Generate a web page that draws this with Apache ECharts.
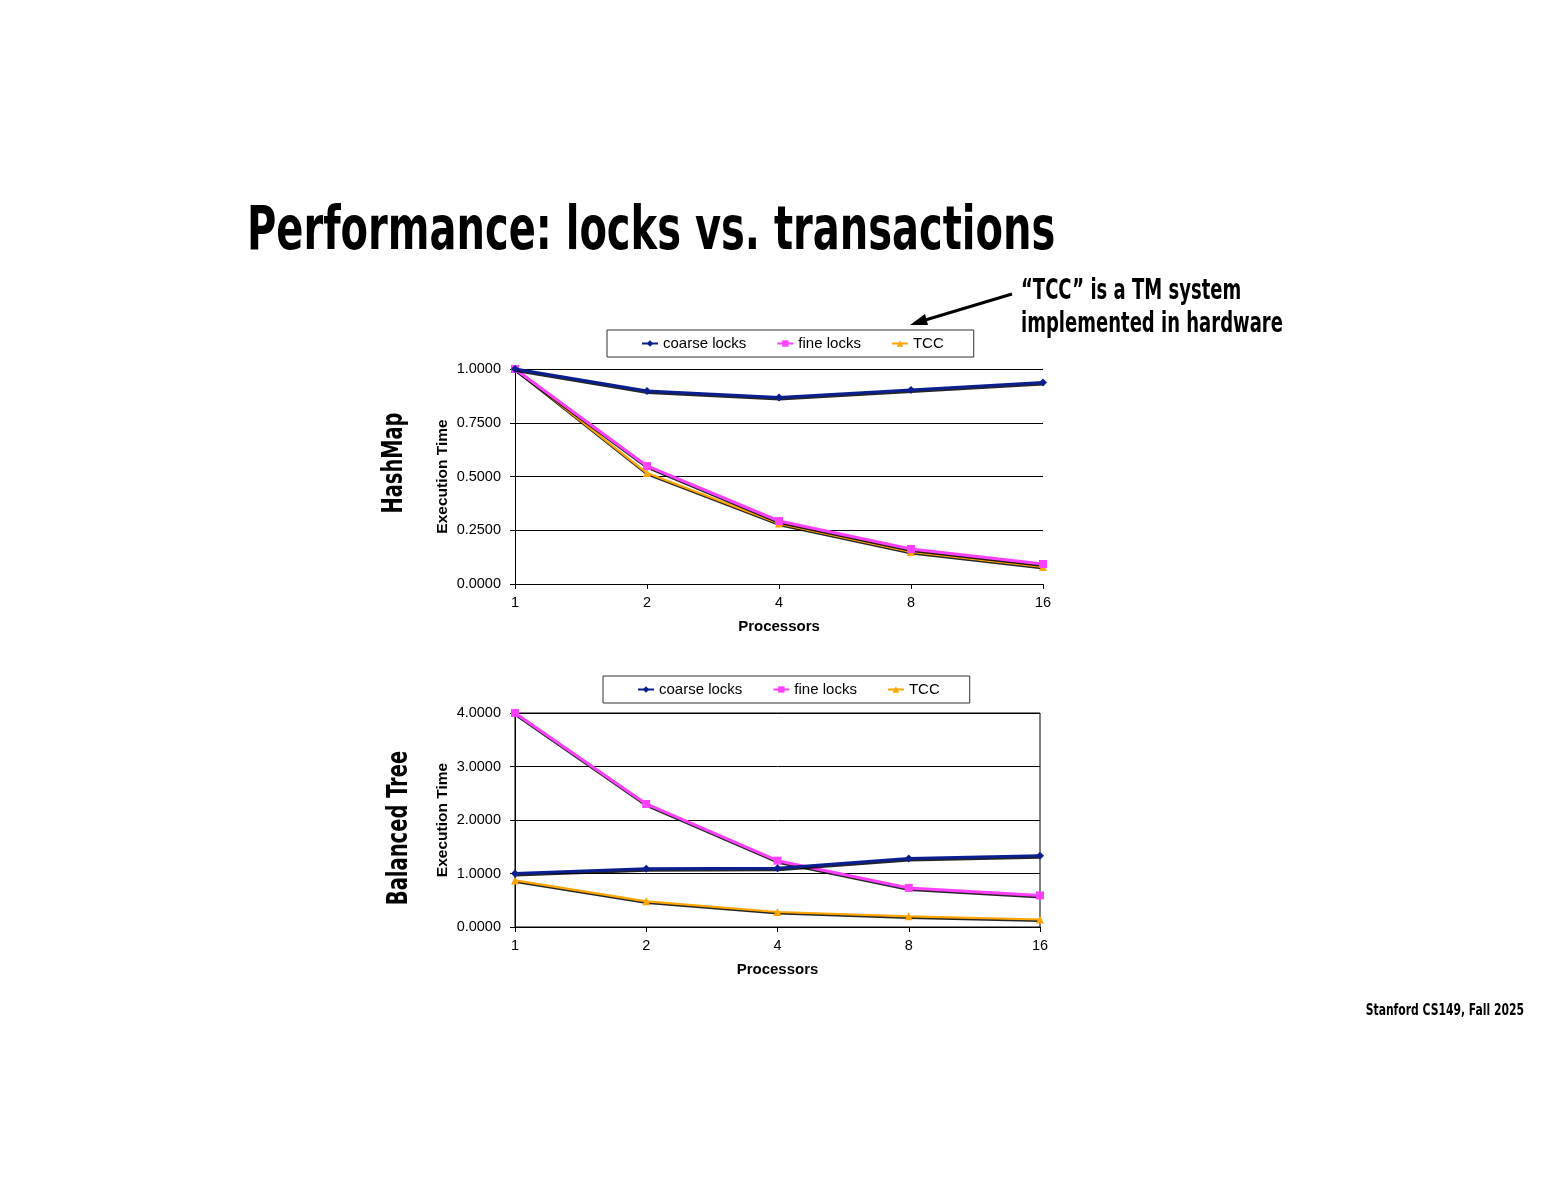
<!DOCTYPE html>
<html><head><meta charset="utf-8">
<script src="https://cdn.jsdelivr.net/npm/echarts@6/dist/echarts.min.js"></script>
<style>html,body{margin:0;padding:0;background:#fff}#c{width:1553px;height:1200px}</style>
</head><body><div id="c"></div>
<script>
const processors = ['1', '2', '4', '8', '16'];
const seriesNames = ['coarse locks', 'fine locks', 'TCC'];
const hashCoarse = [1.0, 0.898, 0.867, 0.902, 0.937];
const hashFine = [1.0, 0.549, 0.293, 0.163, 0.093];
const hashTCC = [1.0, 0.516, 0.281, 0.149, 0.079];
const treeCoarse = [1.0, 1.09, 1.10, 1.28, 1.33];
const treeFine = [4.0, 2.30, 1.24, 0.73, 0.59];
const treeTCC = [0.87, 0.48, 0.28, 0.20, 0.14];

const colors = ['#0a1f8f', '#ff40ff', '#ffa500'];
const symbols = ['diamond', 'rect', 'triangle'];
const widths = [3, 3, 2.2];
const condensed = '"Liberation Sans Narrow", "DejaVu Sans Condensed", sans-serif';
const arial = 'Arial, "Liberation Sans", sans-serif';

function mk(name, data, i, gi) {
  return {
    name: name, type: 'line', xAxisIndex: gi, yAxisIndex: gi, data: data,
    symbol: symbols[i], symbolSize: 8,
    itemStyle: { color: colors[i] },
    lineStyle: { color: colors[i], width: widths[i], shadowColor: 'rgba(0,0,0,0.85)', shadowOffsetY: 1.5, shadowOffsetX: 0.5, shadowBlur: 0 },
    emphasis: { disabled: true }, animation: false, z: 5 - i
  };
}

const chart = echarts.init(document.getElementById('c'));
const axisLbl = { color: '#000', fontSize: 14.5, fontFamily: arial };
function xAx(gi) {
  return {
    type: 'category', gridIndex: gi, data: processors, boundaryGap: false,
    name: 'Processors', nameLocation: 'middle', nameGap: 35,
    nameTextStyle: { fontWeight: 'bold', fontSize: 15, color: '#000', fontFamily: arial },
    axisLine: { lineStyle: { color: '#000', width: 1 } },
    axisTick: { show: true, alignWithLabel: true, length: 5, lineStyle: { color: '#000' } },
    axisLabel: Object.assign({ margin: 11 }, axisLbl),
    splitLine: { show: false }
  };
}
function yAx(gi, max, interval) {
  return {
    type: 'value', gridIndex: gi, min: 0, max: max, interval: interval,
    name: 'Execution Time', nameLocation: 'middle', nameGap: 64,
    nameTextStyle: { fontWeight: 'bold', fontSize: 15.5, color: '#000', fontFamily: arial },
    axisLine: { show: true, lineStyle: { color: '#000' } },
    axisTick: { show: true, length: 5, lineStyle: { color: '#000' } },
    axisLabel: Object.assign({ margin: 14, formatter: v => v.toFixed(4) }, axisLbl),
    splitLine: { show: true, lineStyle: { color: '#000', width: 1 } }
  };
}
function legend(left, top) {
  return {
    data: seriesNames, left: left, top: top, orient: 'horizontal',
    itemGap: 30, itemWidth: 16, itemHeight: 8,
    textStyle: { fontSize: 15, color: '#000', fontFamily: arial },
    borderColor: '#333', borderWidth: 1, padding: [6, 30, 6, 34], backgroundColor: '#fff'
  };
}

chart.setOption({
  animation: false,
  backgroundColor: '#fff',
  grid: [
    { left: 515, top: 369, width: 528, height: 215, show: false },
    { left: 515, top: 713, width: 525, height: 214, show: true, borderColor: '#000', borderWidth: 1 }
  ],
  xAxis: [xAx(0), xAx(1)],
  yAxis: [yAx(0, 1, 0.25), yAx(1, 4, 1)],
  legend: [legend(607, 330), legend(603, 676)],
  series: [
    mk(seriesNames[0], hashCoarse, 0, 0), mk(seriesNames[1], hashFine, 1, 0), mk(seriesNames[2], hashTCC, 2, 0),
    mk(seriesNames[0], treeCoarse, 0, 1), mk(seriesNames[1], treeFine, 1, 1), mk(seriesNames[2], treeTCC, 2, 1)
  ],
  graphic: [
    { type: 'text', x: 247, y: 263, scaleX: 0.741, style: { text: 'Performance: locks vs. transactions', font: 'bold 60px ' + condensed, fill: '#000', textVerticalAlign: 'bottom' } },
    { type: 'text', x: 1021, y: 306, scaleX: 0.715, style: { text: '\u201cTCC\u201d is a TM system', font: 'bold 28px ' + condensed, fill: '#000', textVerticalAlign: 'bottom' } },
    { type: 'text', x: 1021, y: 339, scaleX: 0.715, style: { text: 'implemented in hardware', font: 'bold 28px ' + condensed, fill: '#000', textVerticalAlign: 'bottom' } },
    { type: 'line', shape: { x1: 1012, y1: 294, x2: 922, y2: 321 }, style: { stroke: '#000', lineWidth: 3 } },
    { type: 'polygon', shape: { points: [[910, 325], [925, 314], [928, 325]] }, style: { fill: '#000' } },
    { type: 'text', x: 395, y: 463, rotation: Math.PI / 2, scaleX: 0.77, style: { text: 'HashMap', font: 'bold 28px ' + condensed, fill: '#000', textAlign: 'center', textVerticalAlign: 'middle' } },
    { type: 'text', x: 400, y: 828, rotation: Math.PI / 2, scaleX: 0.775, style: { text: 'Balanced Tree', font: 'bold 28px ' + condensed, fill: '#000', textAlign: 'center', textVerticalAlign: 'middle' } },
    { type: 'text', x: 1524, y: 1019, scaleX: 0.75, style: { text: 'Stanford CS149, Fall 2025', font: 'bold 16px ' + condensed, fill: '#000', textAlign: 'right', textVerticalAlign: 'bottom' } }
  ]
});
</script></body></html>
